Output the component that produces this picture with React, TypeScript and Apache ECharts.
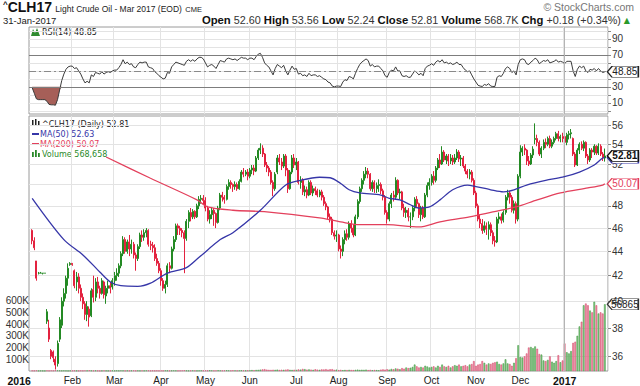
import React, { useEffect, useRef } from 'react';
import * as echarts from 'echarts';

// ---------- categories (trading days) ----------
const HOLIDAYS = ['2016-01-18', '2016-02-15', '2016-03-25', '2016-05-30', '2016-07-04', '2016-09-05', '2016-11-24', '2016-12-26', '2017-01-02', '2017-01-16'];
const MONTHS = ['Jan', 'Feb', 'Mar', 'Apr', 'May', 'Jun', 'Jul', 'Aug', 'Sep', 'Oct', 'Nov', 'Dec'];

function buildTradingDays(): string[] {
  const out: string[] = [];
  const d = new Date(Date.UTC(2016, 0, 4));
  const end = Date.UTC(2017, 0, 31);
  while (d.getTime() <= end) {
    const wd = d.getUTCDay();
    const s = d.toISOString().slice(0, 10);
    if (wd !== 0 && wd !== 6 && !HOLIDAYS.includes(s)) out.push(s);
    d.setUTCDate(d.getUTCDate() + 1);
  }
  return out;
}

// ---------- tick labels ----------
const PRICE_TICKS = [36, 38, 40, 42, 44, 46, 48, 50, 52, 54, 56];
const PRICE_LABELS = [36, 38, 40, 42, 44, 46, 48, 52, 54, 56]; // 50 sits under the MA(200) tag
const RSI_TICKS = [0, 10, 20, 30, 40, 50, 60, 70, 80, 90, 100];
const RSI_LABELS = [10, 30, 70, 90];
const VOLUME_TICKS = [100000, 200000, 300000, 400000, 500000, 600000];

// ---------- daily candles [open, close, low, high] ----------
const JAN16 = [
  [45.8, 44.9, 44.6, 45.9], [44.9, 44.3, 44.1, 45.2], [43.2, 41.8, 41.6, 43.2], [42.2, 42.2, 42.1, 42.3], [42.2, 42.2, 42.2, 42.3],
  [42.2, 42.2, 42.1, 42.2], [42.2, 42.2, 42.2, 42.2], [38.5, 39.2, 38.3, 39.4], [38.0, 37.2, 37.0, 38.6], [36.4, 36.0, 35.8, 36.5],
  [36.3, 35.9, 35.6, 36.4], [35.8, 35.4, 35.1, 36.0], [35.5, 36.9, 35.3, 37.1], [37.2, 38.6, 37.0, 38.8], [38.2, 40.0, 38.0, 40.3],
  [40.0, 40.6, 39.6, 41.0], [40.6, 41.8, 40.2, 42.0], [41.8, 42.6, 41.2, 43.0], [42.9, 43.0, 42.8, 43.1],
];
const FEB16 = [
  [43.0, 42.9, 42.8, 43.0], [42.4, 41.2, 41.0, 42.5], [41.5, 41.9, 40.8, 42.3], [41.9, 41.0, 40.6, 42.2], [41.0, 40.3, 40.0, 41.3],
  [40.3, 39.8, 39.4, 40.6], [39.8, 39.0, 38.6, 40.0], [39.0, 39.6, 38.5, 40.0], [39.4, 38.8, 38.1, 39.6], [38.9, 40.8, 38.8, 41.0],
  [40.9, 40.3, 39.9, 42.0], [40.3, 41.5, 40.0, 41.8], [41.5, 41.0, 40.6, 41.9], [41.0, 40.6, 40.2, 41.2], [40.6, 41.6, 40.5, 41.8],
  [41.5, 40.5, 40.2, 41.6], [40.4, 41.0, 39.8, 41.2], [41.0, 41.2, 40.6, 41.6], [41.2, 41.0, 40.6, 41.5], [41.1, 41.6, 40.9, 41.8],
];
const MAR16 = [
  [41.6, 42.0, 41.2, 42.3], [42.0, 42.2, 41.6, 42.6], [42.2, 42.8, 41.9, 43.0], [42.8, 43.8, 42.6, 44.0], [43.8, 45.0, 43.6, 45.3],
  [45.0, 44.0, 43.8, 45.2], [44.0, 44.8, 43.8, 45.0], [44.8, 44.2, 43.6, 45.4], [44.2, 44.6, 43.8, 45.0], [44.6, 43.7, 43.4, 44.8],
  [43.7, 43.4, 42.4, 43.9], [43.4, 44.4, 43.2, 44.6], [44.4, 45.4, 44.2, 45.6], [45.4, 45.2, 44.8, 45.8], [45.2, 45.6, 44.9, 45.9],
  [45.6, 45.8, 45.2, 46.0], [45.8, 44.6, 44.4, 45.9], [44.6, 44.5, 44.1, 44.9], [44.5, 44.3, 43.9, 44.8], [44.3, 43.4, 43.2, 44.6],
  [43.4, 43.0, 42.8, 43.8], [43.0, 42.4, 42.2, 43.2],
];
const APR16 = [
  [42.4, 41.6, 41.2, 42.6], [41.6, 41.0, 40.8, 41.8], [41.0, 41.3, 40.6, 41.6], [41.3, 42.8, 41.1, 43.0], [42.8, 42.6, 42.2, 43.1],
  [42.6, 44.2, 42.5, 44.4], [44.2, 45.0, 44.0, 45.3], [45.0, 46.2, 44.8, 46.4], [46.2, 46.0, 45.4, 46.4], [46.0, 45.8, 45.4, 46.2],
  [45.8, 45.6, 45.2, 46.0], [45.6, 45.1, 42.2, 45.8], [45.1, 46.6, 44.9, 46.8], [46.6, 47.4, 46.0, 47.6], [47.4, 47.0, 46.6, 47.8],
  [47.0, 47.5, 46.8, 47.7], [47.5, 47.0, 46.8, 47.6], [47.0, 48.0, 46.9, 48.2], [48.0, 48.6, 47.7, 48.9], [48.6, 48.7, 48.2, 49.0],
  [48.7, 48.5, 48.1, 49.0],
];
const MAY16 = [
  [48.5, 47.8, 47.5, 48.8], [47.8, 46.8, 46.6, 48.0], [46.8, 47.2, 46.4, 47.6], [47.2, 47.6, 46.8, 47.9], [47.6, 47.3, 46.2, 47.8],
  [47.3, 46.5, 46.0, 47.4], [46.5, 47.8, 46.4, 48.0], [47.8, 49.0, 47.6, 49.2], [49.0, 48.8, 48.4, 49.3], [48.8, 48.6, 48.2, 49.0],
  [48.6, 49.8, 48.5, 50.0], [49.8, 50.2, 49.5, 50.5], [50.2, 50.0, 49.6, 50.4], [50.0, 49.8, 49.3, 50.1], [49.8, 50.0, 49.5, 50.3],
  [50.0, 49.6, 49.4, 50.2], [49.6, 50.3, 49.5, 50.5], [50.3, 51.2, 50.2, 51.4], [51.2, 51.0, 50.7, 51.6], [51.0, 51.2, 50.8, 51.4],
  [51.2, 50.8, 50.4, 51.5],
];
const JUN16 = [
  [50.8, 51.4, 50.6, 51.6], [51.4, 51.6, 51.0, 51.9], [51.6, 51.3, 50.9, 51.9], [51.3, 52.6, 51.2, 52.8], [52.6, 53.4, 52.4, 53.6],
  [53.4, 53.6, 53.0, 54.1], [53.6, 53.0, 52.7, 53.9], [53.0, 51.9, 51.7, 53.1], [51.9, 51.6, 51.2, 52.2], [51.6, 51.2, 50.8, 51.8],
  [51.2, 50.2, 50.0, 51.4], [50.2, 49.6, 48.9, 50.4], [49.6, 51.0, 49.4, 51.2], [51.2, 52.6, 51.0, 52.9], [52.6, 52.2, 51.9, 53.0],
  [52.2, 51.8, 51.4, 52.6], [51.8, 52.8, 51.6, 53.0], [52.8, 51.4, 50.8, 53.0], [51.4, 49.6, 49.2, 51.6], [49.6, 51.2, 49.5, 51.4],
  [51.2, 52.6, 51.0, 52.9], [52.6, 51.9, 51.6, 53.0],
];
const JUL16 = [
  [51.9, 52.2, 51.4, 52.6], [52.2, 50.2, 50.0, 52.3], [50.2, 50.4, 49.6, 50.8], [50.4, 49.3, 49.0, 50.6], [49.3, 49.5, 48.9, 49.9],
  [49.5, 49.0, 48.7, 49.8], [49.0, 50.2, 48.9, 50.4], [50.2, 49.2, 49.0, 50.4], [49.2, 49.6, 48.9, 49.9], [49.6, 49.4, 49.0, 49.8],
  [49.4, 49.0, 48.8, 49.6], [49.0, 49.3, 48.8, 49.5], [49.3, 48.8, 48.5, 49.5], [48.8, 48.2, 48.0, 49.0], [48.2, 47.9, 47.6, 48.4],
  [47.9, 47.0, 46.8, 48.0], [47.0, 46.8, 46.5, 47.3], [46.8, 45.6, 45.4, 47.0], [45.6, 45.3, 45.0, 45.8], [45.3, 45.4, 44.8, 45.8],
];
const AUG16 = [
  [45.4, 44.2, 44.0, 45.5], [44.2, 44.0, 43.4, 44.5], [44.0, 45.0, 43.6, 45.2], [45.0, 45.5, 44.6, 45.8], [45.5, 45.2, 44.9, 45.9],
  [45.2, 46.4, 45.0, 46.6], [46.4, 46.0, 45.6, 46.7], [46.0, 45.4, 45.2, 46.3], [45.4, 47.0, 45.3, 47.2], [47.0, 48.4, 46.8, 48.6],
  [48.4, 49.6, 48.2, 49.8], [49.6, 50.4, 49.3, 50.6], [50.4, 51.0, 50.0, 51.3], [51.0, 51.3, 50.6, 51.7], [51.3, 51.0, 50.6, 51.6],
  [51.0, 49.6, 49.4, 51.1], [49.6, 50.2, 49.3, 50.4], [50.2, 49.6, 49.2, 50.4], [49.6, 49.9, 49.2, 50.2], [49.9, 50.0, 49.3, 50.5],
  [50.0, 49.4, 49.1, 50.2], [49.4, 48.8, 48.5, 49.6], [48.8, 47.4, 47.2, 49.0],
];
const SEP16 = [
  [47.4, 46.8, 46.4, 47.6], [46.8, 48.2, 46.6, 48.4], [48.2, 49.0, 47.8, 49.2], [49.0, 48.8, 48.4, 49.4], [48.8, 50.4, 48.6, 50.7],
  [50.4, 49.2, 49.0, 50.5], [49.2, 49.3, 48.6, 49.6], [49.3, 47.8, 47.6, 49.4], [47.8, 47.4, 47.0, 48.2], [47.4, 47.6, 46.9, 47.9],
  [47.6, 47.0, 46.6, 47.8], [47.0, 47.0, 46.0, 47.4], [47.0, 47.8, 46.7, 48.0], [47.8, 48.6, 47.5, 48.8], [48.6, 48.2, 47.9, 48.9],
  [48.2, 47.2, 46.9, 48.3], [47.2, 47.8, 46.6, 48.0], [47.8, 47.0, 46.8, 48.0], [47.0, 49.0, 46.9, 49.2], [49.0, 49.9, 48.8, 50.2],
  [49.9, 50.2, 49.5, 50.6],
];
const OCT16 = [
  [50.2, 50.8, 49.9, 51.0], [50.8, 50.4, 50.0, 51.3], [50.4, 51.6, 50.2, 51.8], [51.6, 52.4, 51.4, 52.6], [52.4, 52.0, 51.6, 53.0],
  [52.0, 53.2, 51.9, 53.8], [53.2, 52.4, 52.2, 53.4], [52.4, 52.8, 52.0, 53.0], [52.8, 52.3, 51.8, 53.0], [52.3, 52.6, 52.0, 53.0],
  [52.6, 52.2, 51.9, 52.9], [52.2, 52.6, 52.0, 53.0], [52.6, 53.2, 52.4, 53.5], [53.2, 52.5, 52.2, 53.4], [52.5, 52.6, 51.8, 52.9],
  [52.6, 51.8, 51.6, 52.8], [51.8, 51.3, 51.0, 52.0], [51.3, 51.0, 50.6, 51.5], [51.0, 51.2, 50.5, 51.5], [51.2, 50.4, 50.2, 51.4],
  [50.4, 49.2, 49.0, 50.6],
];
const NOV16 = [
  [49.2, 48.0, 47.8, 49.4], [48.0, 46.8, 46.6, 48.2], [46.8, 46.4, 46.0, 47.2], [46.4, 45.8, 45.5, 46.8], [45.8, 46.2, 45.6, 46.6],
  [46.2, 45.9, 45.4, 46.5], [45.9, 46.3, 45.0, 46.6], [46.3, 45.6, 45.3, 46.5], [45.6, 44.9, 44.6, 45.8], [44.9, 44.8, 44.4, 45.3],
  [44.8, 46.8, 44.7, 47.0], [46.8, 47.0, 46.4, 47.4], [47.0, 46.7, 46.4, 47.3], [46.7, 47.4, 46.5, 47.6], [47.4, 48.8, 47.2, 49.0],
  [48.8, 49.2, 48.5, 49.5], [49.2, 48.8, 48.2, 49.4], [48.8, 47.6, 47.4, 49.0], [47.6, 48.2, 47.3, 48.5], [48.2, 46.8, 46.4, 48.4],
  [46.8, 50.8, 46.6, 51.0],
];
const DEC16 = [
  [50.8, 53.2, 50.6, 53.9], [53.2, 53.6, 52.8, 53.8], [53.6, 53.4, 52.9, 54.0], [53.4, 52.3, 51.9, 53.5], [52.3, 52.0, 51.8, 52.8],
  [52.0, 52.9, 51.9, 53.1], [52.9, 53.5, 52.6, 53.8], [54.5, 54.6, 54.0, 56.2], [54.6, 54.2, 53.8, 55.0], [54.2, 53.0, 52.8, 54.4],
  [53.0, 53.6, 52.6, 53.8], [53.6, 54.2, 53.4, 54.5], [54.2, 54.0, 53.6, 54.6], [54.0, 54.6, 53.8, 54.8], [54.6, 53.8, 53.6, 54.9],
  [53.8, 54.2, 53.6, 54.5], [54.2, 54.6, 54.0, 54.8], [54.6, 55.1, 54.4, 55.3], [55.1, 54.6, 54.3, 55.4], [54.6, 54.8, 54.2, 55.0],
  [54.8, 54.6, 54.2, 55.2],
];
const JAN17 = [
  [54.8, 54.2, 53.6, 56.2], [54.2, 55.0, 53.9, 55.2], [55.0, 55.1, 54.5, 55.4], [55.1, 55.2, 54.6, 55.6], [54.6, 53.0, 52.8, 54.7],
  [53.0, 51.9, 51.7, 53.2], [51.9, 53.4, 51.8, 53.6], [53.4, 54.0, 53.0, 54.2], [54.0, 53.6, 53.4, 54.3], [53.6, 54.2, 53.3, 54.4],
  [54.2, 52.8, 52.6, 54.3], [52.8, 52.4, 52.0, 53.0], [52.4, 53.4, 52.2, 53.6], [53.4, 53.2, 52.6, 53.6], [53.2, 53.8, 52.9, 54.0],
  [53.8, 53.1, 52.9, 53.9], [53.1, 53.8, 52.9, 54.1], [53.8, 53.0, 52.8, 54.0], [53.0, 52.63, 52.3, 53.2], [52.60, 52.81, 52.24, 53.56],
];

// ---------- daily volume (thousands of contracts) ----------
const VOL_JAN16 = [4, 3, 5, 2, 3, 2, 2, 4, 3, 5, 4, 6, 5, 4, 3, 4, 3, 2, 3];
const VOL_FEB16 = [3, 4, 3, 2, 4, 3, 5, 4, 6, 4, 3, 4, 3, 2, 3, 4, 3, 2, 3, 4];
const VOL_MAR16 = [3, 4, 3, 5, 4, 3, 4, 3, 4, 5, 3, 4, 3, 4, 3, 5, 4, 3, 4, 3, 4, 3];
const VOL_APR16 = [4, 3, 5, 4, 3, 4, 5, 4, 3, 4, 5, 6, 4, 3, 4, 5, 4, 3, 4, 5, 4];
const VOL_MAY16 = [5, 4, 6, 5, 4, 5, 6, 5, 4, 5, 6, 5, 4, 6, 5, 4, 5, 6, 5, 4, 6];
const VOL_JUN16 = [6, 8, 7, 9, 10, 12, 14, 16, 12, 10, 9, 11, 10, 12, 9, 11, 10, 12, 14, 10, 9, 11];
const VOL_JUL16 = [10, 14, 12, 18, 16, 12, 14, 12, 10, 15, 12, 10, 14, 13, 16, 12, 15, 16, 10, 12];
const VOL_AUG16 = [8, 10, 7, 9, 8, 10, 9, 8, 10, 12, 9, 11, 10, 12, 8, 10, 7, 9, 8, 6, 12, 14, 12];
const VOL_SEP16 = [15, 12, 18, 15, 22, 20, 15, 25, 20, 30, 25, 28, 35, 55, 40, 30, 35, 30, 45, 38, 30];
const VOL_OCT16 = [35, 40, 30, 45, 35, 55, 40, 35, 45, 30, 40, 50, 45, 55, 40, 45, 50, 40, 55, 60, 85];
const VOL_NOV16 = [45, 55, 60, 85, 70, 55, 65, 60, 70, 75, 80, 60, 55, 65, 100, 65, 60, 45, 70, 110, 220];
const VOL_DEC16 = [120, 115, 125, 150, 200, 205, 195, 210, 190, 145, 140, 90, 85, 95, 125, 80, 70, 85, 135, 75, 90];
const VOL_JAN17 = [235, 160, 150, 170, 240, 250, 300, 380, 420, 560, 575, 560, 515, 500, 590, 560, 490, 500, 490, 568.658];

// ---------- RSI(14) ----------
const RSI_JAN16 = [29, 22, 15, 14, 14, 14, 14, 12, 8, 7.5, 7.5, 7, 14, 26, 38, 46, 52, 55, 56];
const RSI_FEB16 = [56, 53, 54, 50, 46, 40, 35, 37, 35, 45, 43, 48, 47, 46, 49, 46, 48, 49, 48, 50];
const RSI_MAR16 = [51, 51, 54, 58, 64, 59, 61, 58, 59, 55, 54, 58, 61, 60, 61, 61, 55, 54, 53, 49, 47, 44];
const RSI_APR16 = [42, 40, 41, 48, 47, 55, 58, 61, 60, 59, 58, 57, 62, 64, 62, 64, 62, 65, 67, 67, 65];
const RSI_MAY16 = [60, 55, 57, 58, 56, 53, 58, 63, 62, 61, 65, 66, 65, 64, 65, 63, 65, 67, 66, 66, 64];
const RSI_JUN16 = [66, 66, 64, 68, 71, 72, 67, 60, 57, 55, 50, 45, 53, 58, 56, 54, 57, 50, 45, 51, 56, 52];
const RSI_JUL16 = [53, 46, 47, 44, 45, 43, 47, 44, 45, 45, 43, 44, 42, 40, 39, 36, 35, 31, 30, 31];
const RSI_AUG16 = [31, 30.5, 36, 39, 38, 43, 42, 40, 47, 53, 58, 61, 63, 65, 63, 56, 58, 55, 56, 56, 53, 50, 44];
const RSI_SEP16 = [42, 48, 51, 50, 55, 50, 50, 44, 43, 44, 42, 42, 46, 50, 48, 45, 47, 44, 53, 56, 57];
const RSI_OCT16 = [59, 57, 61, 63, 61, 64, 60, 61, 59, 60, 58, 59, 61, 58, 58, 54, 51, 49, 50, 45, 40];
const RSI_NOV16 = [36, 32, 31, 30.5, 33, 32, 34, 31, 30.5, 30.5, 42, 44, 43, 47, 53, 55, 53, 48, 50, 45, 58];
const RSI_DEC16 = [64, 65, 64, 59, 58, 61, 63, 66, 64, 59, 61, 63, 62, 64, 60, 61, 62, 64, 61, 62, 61];
const RSI_JAN17 = [59, 62, 62, 62, 50, 43, 52, 56, 54, 56, 50, 48, 52, 51, 53, 50, 53, 50, 48, 48.85];

// ---------- moving averages [trading-day index, value] ----------
const MA50_POINTS = [
  [0, 48.7], [15, 45.0], [24, 43.7], [32, 42.3], [37, 41.5], [42, 41.2], [50, 41.15], [56, 41.4], [64, 42.2], [73, 42.65],
  [79, 43.5], [89, 45.0], [95, 45.6], [108, 47.6], [120, 49.95], [127, 50.4], [136, 50.7], [141, 50.65], [146, 50.1], [150, 49.5],
  [155, 49.2], [165, 49.0], [169, 48.7], [174, 48.55], [179, 48.1], [183, 47.8], [188, 47.9], [193, 48.55], [199, 49.5], [206, 49.95],
  [210, 49.8], [217, 49.5], [223, 49.3], [228, 49.5], [234, 49.95], [243, 50.4], [251, 50.7], [259, 51.2], [266, 51.9], [270, 52.6],
  [271, 52.63],
];
const MA200_POINTS = [
  [35, 52.7], [56, 50.6], [78, 48.55], [83, 47.9], [95, 47.6], [111, 47.45], [136, 46.9], [146, 46.55], [155, 46.3], [168, 46.3],
  [183, 46.1], [193, 46.55], [207, 47.0], [218, 47.45], [229, 47.9], [239, 48.55], [250, 49.2], [263, 49.67], [270, 49.95], [271, 50.07],
];

const AX_FONT = '"Liberation Sans", Arial, sans-serif';
const LEG_FONT = '"DejaVu Sans", Verdana, sans-serif';
const UP = '#248a24';
const DOWN = '#e3223f';
const MA50_C = '#3636a8';
const MA200_C = '#e3405c';
const GRID_C = '#e3e3e3';

function buildOption() {
  const dates = buildTradingDays();
  const candles = [...JAN16, ...FEB16, ...MAR16, ...APR16, ...MAY16, ...JUN16, ...JUL16, ...AUG16, ...SEP16, ...OCT16, ...NOV16, ...DEC16, ...JAN17];
  const volumesK = [...VOL_JAN16, ...VOL_FEB16, ...VOL_MAR16, ...VOL_APR16, ...VOL_MAY16, ...VOL_JUN16, ...VOL_JUL16, ...VOL_AUG16, ...VOL_SEP16, ...VOL_OCT16, ...VOL_NOV16, ...VOL_DEC16, ...VOL_JAN17];
  const rsi = [...RSI_JAN16, ...RSI_FEB16, ...RSI_MAR16, ...RSI_APR16, ...RSI_MAY16, ...RSI_JUN16, ...RSI_JUL16, ...RSI_AUG16, ...RSI_SEP16, ...RSI_OCT16, ...RSI_NOV16, ...RSI_DEC16, ...RSI_JAN17];
  const n = dates.length;
  const last = n - 1;
  const cats = ['pad-start', ...dates, 'pad-end'];
  const k = (i: number) => i + 1;
  const LN = Math.log;

  const monthStart = new Set<number>();
  dates.forEach((d, i) => {
    if (i > 0 && d.slice(0, 7) !== dates[i - 1].slice(0, 7)) monthStart.add(k(i));
  });
  const jan2017 = dates.indexOf('2017-01-03');
  const isLabel = (idx: number) => idx === 1 || monthStart.has(idx);
  const isSplit = (idx: number) => monthStart.has(idx);
  const xLabel = (val: string) => {
    if (val === dates[0]) return '{y0|2016}';
    if (val.slice(5, 7) === '01') return '{y|' + val.slice(0, 4) + '}';
    return MONTHS[+val.slice(5, 7) - 1];
  };

  const candleData = candles.map((c, i) => [k(i), LN(c[0]), LN(c[1]), LN(c[2]), LN(c[3])]);
  const volData = volumesK.map((v, i) => {
    const up = i === 0 ? candles[0][1] >= candles[0][0] : candles[i][1] >= candles[i - 1][1];
    return {
      value: [k(i), v * 1000],
      itemStyle: { color: up ? '#86cc86' : '#ef93a6', borderColor: up ? '#4a9c4a' : '#d65274', borderWidth: 0.6 },
    };
  });
  const rsiData = rsi.map((v, i) => [k(i), v]);
  const rsiLow = rsi.map((v, i) => [k(i), Math.min(v, 30)]);
  const rsiFill = rsi.map((v, i) => [k(i), 30 - Math.min(v, 30)]);
  const ma50 = MA50_POINTS.map(([i, v]) => [k(i), LN(v)]);
  const ma200 = MA200_POINTS.map(([i, v]) => [k(i), LN(v)]);

  const tagPath = 'path://M0,5.5L5,0L33,0L33,11L5,11Z';
  const tag = (coord: number[], text: string, border: string, textColor: string, bold = false, fill = '#ffffff', showText = true) => ({
    coord,
    symbol: tagPath,
    symbolSize: [31, 11],
    symbolOffset: [18, 0],
    itemStyle: { color: fill, borderColor: border, borderWidth: 1 },
    label: {
      show: showText, position: 'inside', formatter: text, color: textColor, fontSize: 10,
      fontFamily: AX_FONT, fontWeight: bold ? 'bold' : 'normal', offset: [2, 0],
    },
  });

  const xAxisBase = {
    type: 'category',
    data: cats,
    boundaryGap: true,
    axisLine: { show: false },
    axisTick: { show: false },
    splitLine: { show: true, interval: (idx: number) => isSplit(idx), lineStyle: { color: GRID_C, width: 1 } },
  };

  const graphic: any[] = [
    // header
    {
      type: 'text', x: 3, y: 14,
      style: {
        text: '{c|^}{s|CLH17} {t|Light Crude Oil - Mar 2017 (EOD)} {m|CME}',
        textVerticalAlign: 'bottom',
        fill: '#111',
        rich: {
          c: { fontSize: 8, fontWeight: 'bold', fontFamily: AX_FONT, fill: '#111', verticalAlign: 'top' },
          s: { fontSize: 14, fontWeight: 'bold', fontFamily: AX_FONT, fill: '#111', verticalAlign: 'bottom' },
          t: { fontSize: 8.5, fontFamily: AX_FONT, fill: '#222', verticalAlign: 'bottom', padding: [0, 0, 1, 0] },
          m: { fontSize: 7.5, fontFamily: AX_FONT, fill: '#222', verticalAlign: 'bottom', padding: [0, 0, 1, 0] },
        },
      },
    },
    { type: 'text', x: 3, y: 20, style: { text: '31-Jan-2017', font: '9.5px ' + AX_FONT, fill: '#222', textVerticalAlign: 'middle' } },
    {
      type: 'text', x: 630, y: 20,
      style: {
        text: '{b|Open} 52.60 {b|High} 53.56 {b|Low} 52.24 {b|Close} 52.81 {b|Volume} 568.7K {b|Chg} +0.18 (+0.34%) {g|▲}',
        textAlign: 'right', textVerticalAlign: 'middle',
        font: '10.8px ' + AX_FONT, fill: '#333',
        rich: {
          b: { fontSize: 11.3, fontWeight: 'bold', fontFamily: AX_FONT, fill: '#111' },
          g: { fontSize: 8, fontFamily: LEG_FONT, fill: '#2a9a2a' },
        },
      },
    },
    { type: 'text', x: 634, y: 7, style: { text: '© StockCharts.com', font: '10.5px ' + AX_FONT, fill: '#777', textAlign: 'right', textVerticalAlign: 'middle' } },

    // RSI legend
    { type: 'polygon', shape: { points: [[31, 36], [33, 29], [35, 33], [37, 28], [40, 36]] }, style: { fill: '#2e8b2e' } },
    { type: 'text', x: 42, y: 32, style: { text: 'RSI(14) 48.85', font: '8px ' + LEG_FONT, fill: '#222', textVerticalAlign: 'middle' } },

    // price legend
    { type: 'rect', shape: { x: 32, y: 120, width: 1.5, height: 6 }, style: { fill: '#222' } },
    { type: 'rect', shape: { x: 35, y: 119, width: 1.5, height: 7 }, style: { fill: '#222' } },
    { type: 'rect', shape: { x: 38, y: 121, width: 1.5, height: 5 }, style: { fill: '#222' } },
    { type: 'text', x: 42, y: 124, style: { text: '^CLH17 (Daily) 52.81', font: '8px ' + LEG_FONT, fill: '#222', textVerticalAlign: 'middle' } },
    { type: 'line', shape: { x1: 32, y1: 134, x2: 39, y2: 134 }, style: { stroke: MA50_C, lineWidth: 2 } },
    { type: 'text', x: 40, y: 134, style: { text: 'MA(50) 52.63', font: '8px ' + LEG_FONT, fill: MA50_C, textVerticalAlign: 'middle' } },
    { type: 'line', shape: { x1: 32, y1: 144, x2: 39, y2: 144 }, style: { stroke: MA200_C, lineWidth: 2 } },
    { type: 'text', x: 40, y: 144, style: { text: 'MA(200) 50.07', font: '8px ' + LEG_FONT, fill: MA200_C, textVerticalAlign: 'middle' } },
    { type: 'rect', shape: { x: 32, y: 152, width: 1.8, height: 5 }, style: { fill: '#2a8a2a' } },
    { type: 'rect', shape: { x: 35, y: 150, width: 1.8, height: 7 }, style: { fill: '#2a8a2a' } },
    { type: 'rect', shape: { x: 38, y: 153, width: 1.8, height: 4 }, style: { fill: '#2a8a2a' } },
    { type: 'text', x: 42, y: 154, style: { text: 'Volume 568,658', font: '8px ' + LEG_FONT, fill: '#2a8a2a', textVerticalAlign: 'middle' } },
  ];

  return {
    animation: false,
    backgroundColor: '#ffffff',
    textStyle: { fontFamily: AX_FONT },
    grid: [
      { left: 29, top: 27, width: 579, height: 87, show: true, borderColor: '#9a9a9a', borderWidth: 1 },
      { left: 29, top: 116, width: 579, height: 257, show: true, borderColor: '#9a9a9a', borderWidth: 1 },
    ],
    xAxis: [
      { ...xAxisBase, gridIndex: 0, axisLabel: { show: false } },
      {
        ...xAxisBase,
        gridIndex: 1,
        axisLabel: {
          show: true,
          interval: (idx: number) => isLabel(idx),
          formatter: xLabel,
          margin: 4,
          color: '#222',
          fontSize: 10,
          fontFamily: AX_FONT,
          rich: {
            y: { fontWeight: 'bold', fontSize: 10.5, fontFamily: AX_FONT, color: '#111' },
            y0: { fontWeight: 'bold', fontSize: 10.5, fontFamily: AX_FONT, color: '#111', padding: [0, 26, 0, 0] },
          },
        },
      },
    ],
    yAxis: [
      {
        gridIndex: 0, type: 'value', position: 'right', min: -4, max: 105,
        axisLine: { show: false },
        axisTick: { show: true, length: 3, customValues: RSI_TICKS, lineStyle: { color: '#888' } },
        axisLabel: { customValues: RSI_LABELS, color: '#333', fontSize: 10, fontFamily: AX_FONT, margin: 4 },
        splitLine: { show: true, lineStyle: { color: GRID_C, width: 1 } },
      },
      {
        gridIndex: 1, type: 'value', position: 'right', min: LN(35), max: LN(57),
        axisLine: { show: false },
        axisTick: { show: true, length: 3, customValues: PRICE_TICKS.map(LN), lineStyle: { color: '#888' } },
        axisLabel: {
          customValues: PRICE_LABELS.map(LN), color: '#333', fontSize: 10, fontFamily: AX_FONT, margin: 4,
          formatter: (v: number) => String(Math.round(Math.exp(v))),
        },
        splitLine: { show: true, lineStyle: { color: GRID_C, width: 1 } },
      },
      {
        gridIndex: 1, type: 'value', position: 'left', min: 0, max: 600000 * 257 / 71,
        axisLine: { show: false },
        axisTick: { show: false },
        splitLine: { show: false },
        axisLabel: {
          customValues: VOLUME_TICKS, color: '#333', fontSize: 10, fontFamily: AX_FONT, margin: 0,
          formatter: (v: number) => Math.round(v / 1000) + 'K',
        },
      },
    ],
    series: [
      // ---- RSI panel ----
      {
        type: 'line', xAxisIndex: 0, yAxisIndex: 0, data: rsiLow, stack: 'rsiFill', symbol: 'none',
        lineStyle: { opacity: 0 }, silent: true, z: 1,
      },
      {
        type: 'line', xAxisIndex: 0, yAxisIndex: 0, data: rsiFill, stack: 'rsiFill', symbol: 'none',
        lineStyle: { opacity: 0 }, areaStyle: { color: '#a65f58', opacity: 1 }, silent: true, z: 1,
      },
      {
        type: 'line', xAxisIndex: 0, yAxisIndex: 0, data: rsiData, symbol: 'none', z: 4,
        lineStyle: { color: '#3a3a3a', width: 1 },
        markLine: {
          silent: true, symbol: 'none', label: { show: false },
          data: [
            { yAxis: 70, lineStyle: { color: '#7d7d7d', width: 1, type: 'solid' } },
            { yAxis: 30, lineStyle: { color: '#7d7d7d', width: 1, type: 'solid' } },
            { yAxis: 50, lineStyle: { color: '#8a8a8a', width: 1, type: [7, 3, 2, 3] } },
            { xAxis: dates[jan2017], lineStyle: { color: '#b4b4b4', width: 1, type: 'solid' } },
          ],
        },
        markPoint: { silent: true, data: [tag([k(last), 48.85], '48.85', '#222', '#222')] },
      },
      // ---- price panel ----
      {
        type: 'bar', xAxisIndex: 1, yAxisIndex: 2, data: volData, barWidth: 1.7, z: 1, silent: true,
        markPoint: { silent: true, data: [tag([k(last), 568658], '56865', '#333', '#222', false, 'rgba(255,255,255,0)')] },
      },
      {
        type: 'candlestick', xAxisIndex: 1, yAxisIndex: 1, data: candleData,
        encode: { x: 0, y: [1, 2, 3, 4] },
        barWidth: 1.5, z: 3,
        itemStyle: { color: UP, color0: DOWN, borderColor: UP, borderColor0: DOWN, borderWidth: 1 },
        markLine: {
          silent: true, symbol: 'none', label: { show: false },
          data: [{ xAxis: dates[jan2017], lineStyle: { color: '#b4b4b4', width: 1, type: 'solid' } }],
        },
      },
      {
        type: 'line', xAxisIndex: 1, yAxisIndex: 1, data: ma200, symbol: 'none', smooth: 0.3, z: 4,
        lineStyle: { color: MA200_C, width: 1.3 },
        markPoint: { silent: true, data: [tag([k(last), LN(50.07)], '50.07', MA200_C, MA200_C)] },
      },
      {
        type: 'line', xAxisIndex: 1, yAxisIndex: 1, data: ma50, symbol: 'none', smooth: 0.3, z: 5,
        lineStyle: { color: MA50_C, width: 1.3 },
        markPoint: {
          silent: true,
          data: [
            tag([k(last), LN(52.63)], '52.63', MA50_C, MA50_C, false, '#ffffff', false),
            tag([k(last), LN(52.81)], '52.81', '#111', '#111', true),
          ],
        },
      },
    ],
    graphic,
  };
}

export default function App() {
  const ref = useRef<HTMLDivElement>(null);
  useEffect(() => {
    if (!ref.current) return;
    const chart = echarts.init(ref.current, null, { renderer: 'svg' });
    chart.setOption(buildOption() as any);
    return () => chart.dispose();
  }, []);
  return <div ref={ref} style={{ position: 'absolute', left: 0, top: 0, width: 640, height: 386 }} />;
}
